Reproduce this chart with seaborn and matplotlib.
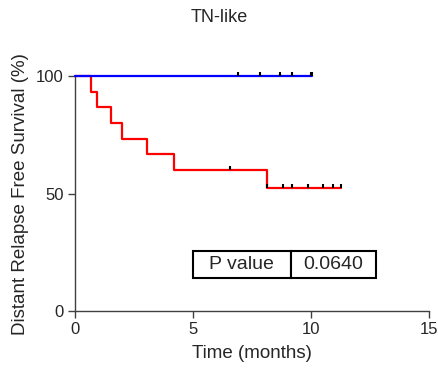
import matplotlib
matplotlib.use("Agg")
import matplotlib.pyplot as plt
import seaborn as sns
import pandas as pd
from matplotlib.path import Path

sns.set_style("white")
plt.rcParams['font.family'] = ['Liberation Sans', 'DejaVu Sans']

# Kaplan-Meier step data (time in months, survival %)
blue_times = [0.0, 10.06]
blue_surv = [100.0, 100.0]
blue_cens_times = [6.89, 7.84, 8.70, 9.21, 10.0, 10.06]
blue_cens_surv = [100.0, 100.0, 100.0, 100.0, 100.0, 100.0]

red_times = [0.0, 0.66, 0.95, 1.53, 2.0, 3.07, 4.21, 8.12, 11.27]
red_surv = [100.0, 93.3, 86.7, 80.0, 73.3, 66.7, 60.0, 52.5, 52.5]
red_cens_times = [6.57, 8.15, 8.83, 9.21, 9.89, 10.52, 10.95, 11.27]
red_cens_surv = [60.0, 52.5, 52.5, 52.5, 52.5, 52.5, 52.5, 52.5]

x_ticks = [0, 5, 10, 15]
y_ticks = [0, 50, 100]
table_labels = ["P value", "0.0640"]

fig = plt.figure(figsize=(4.39, 3.68), dpi=100)
ax = fig.add_axes([0.171, 0.155, 0.806, 0.638])

blue_df = pd.DataFrame({"t": blue_times, "s": blue_surv})
red_df = pd.DataFrame({"t": red_times, "s": red_surv})
sns.lineplot(data=blue_df, x="t", y="s", drawstyle="steps-post", color="#0000ff",
             linewidth=1.6, ax=ax, zorder=3, clip_on=False)
sns.lineplot(data=red_df, x="t", y="s", drawstyle="steps-post", color="#ff0000",
             linewidth=1.6, ax=ax, zorder=2, clip_on=False)

tick_marker = Path([(0, 0), (0, 1)], [Path.MOVETO, Path.LINETO])
cens_df = pd.DataFrame({"t": blue_cens_times + red_cens_times,
                        "s": blue_cens_surv + red_cens_surv})
sns.scatterplot(data=cens_df, x="t", y="s", marker=tick_marker, s=30,
                color="black", edgecolor="black", linewidth=1.5, ax=ax,
                zorder=4, clip_on=False)

ax.set_xlim(0, 15)
ax.set_ylim(0, 100)
ax.set_xticks(x_ticks)
ax.set_yticks(y_ticks)
for s in ["top", "right"]:
    ax.spines[s].set_visible(False)
for s in ["left", "bottom"]:
    ax.spines[s].set_color("#404040")
    ax.spines[s].set_linewidth(1.0)
ax.tick_params(axis="both", which="both", direction="out", length=5, width=1.0,
               color="#404040", labelsize=12, pad=3, bottom=True, left=True)
ax.set_xlabel("Time (months)", fontsize=13.5, labelpad=6)
ax.set_ylabel("Distant Relapse Free Survival (%)", fontsize=13.5, labelpad=5)
fig.text(0.5, 1 - 18 / 368, "TN-like", fontsize=13, ha="center", va="center")

tbl = ax.table(cellText=[table_labels], cellLoc="center",
               colWidths=[0.536, 0.464], bbox=[0.333, 0.14, 0.517, 0.115])
tbl.auto_set_font_size(False)
tbl.set_fontsize(14)
for cell in tbl.get_celld().values():
    cell.set_linewidth(1.5)
    cell.set_edgecolor("black")

fig.savefig("out.png", dpi=100)
